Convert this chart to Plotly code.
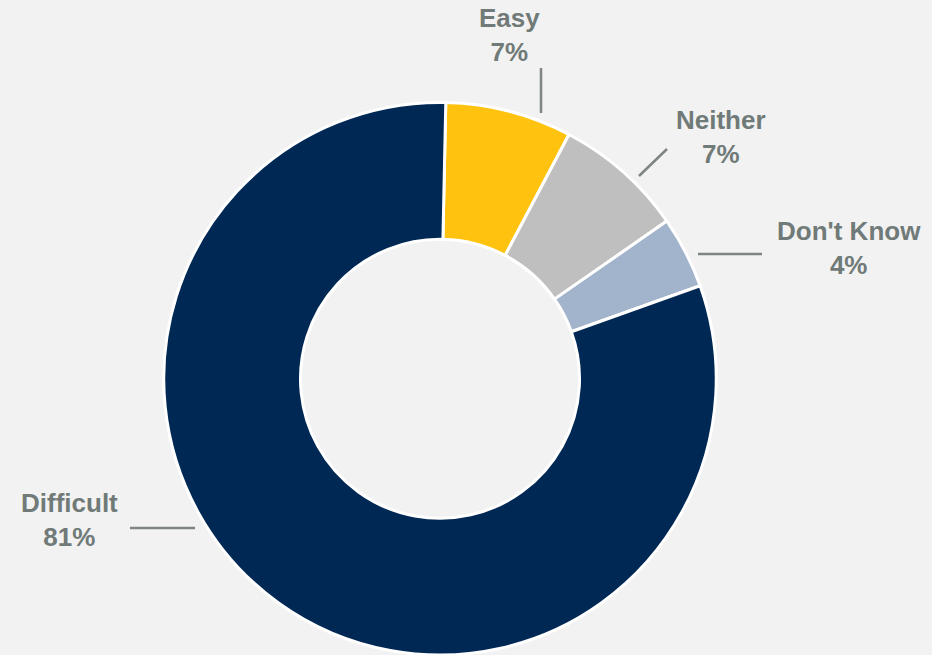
import plotly.graph_objects as go

categories = ["Easy", "Neither", "Don't Know", "Difficult"]
values = [7.4, 7.6, 4.2, 80.8]
pct_labels = ["7%", "7%", "4%", "81%"]
colors = ["#FFC20E", "#BFBFBF", "#A2B4CC", "#002855"]

W, H = 932, 655
BG = "#F2F2F2"
TXT = "#707A78"

def px(x):
    return x / W

def py(y):
    return 1 - y / H

fig = go.Figure(go.Pie(
    labels=categories,
    values=values,
    hole=0.505,
    sort=False,
    direction="clockwise",
    rotation=1.2,
    marker=dict(colors=colors, line=dict(color="white", width=3)),
    textinfo="none",
    hoverinfo="label+percent",
    domain=dict(x=[px(440) - 0.3, px(440) + 0.3], y=[0, 0.8435]),
    showlegend=False,
))

# label positions (pixel centers) and leader lines (pixel endpoints)
label_pos = [(510, 35), (721, 137), (849, 248), (69, 520)]
leader = [((541, 68), (541, 113)), ((639, 176), (667, 149)),
          ((698, 254), (762, 254)), ((130, 528), (195, 528))]

annotations = []
shapes = []
for cat, pl, (lx, ly), ((x0, y0), (x1, y1)) in zip(categories, pct_labels, label_pos, leader):
    annotations.append(dict(
        x=px(lx), y=py(ly), xref="paper", yref="paper",
        text=f"<b>{cat}</b><br><b>{pl}</b>", showarrow=False,
        font=dict(family="Liberation Sans, Arial, sans-serif", size=26, color=TXT),
        xanchor="center", yanchor="middle", align="center",
    ))
    shapes.append(dict(
        type="line", xref="paper", yref="paper",
        x0=px(x0), y0=py(y0), x1=px(x1), y1=py(y1),
        line=dict(color="#7F8583", width=2.5),
    ))

fig.update_layout(
    width=W, height=H,
    margin=dict(l=0, r=0, t=0, b=0),
    paper_bgcolor=BG, plot_bgcolor=BG,
    annotations=annotations, shapes=shapes,
)

fig.write_html(
    "out.html",
    config={"displayModeBar": False},
    post_script="document.body.style.margin='0';document.body.style.overflow='hidden';",
)
